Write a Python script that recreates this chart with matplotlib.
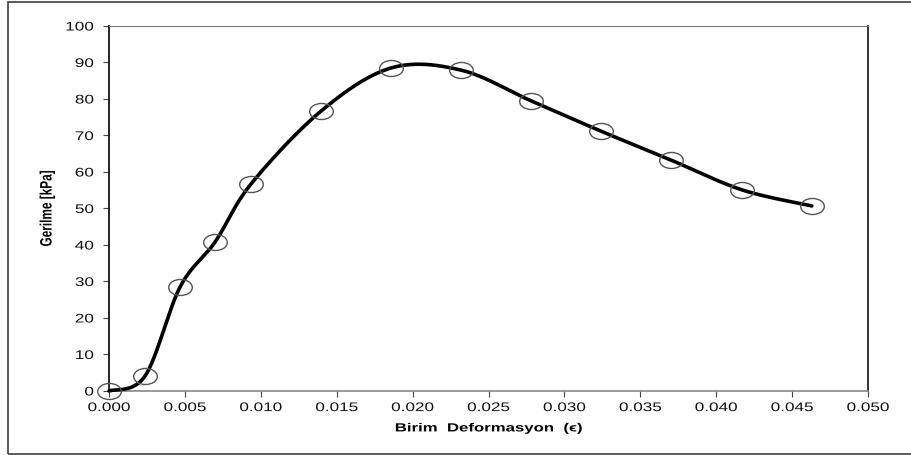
import numpy as np
import matplotlib
matplotlib.use("Agg")
import matplotlib.pyplot as plt
from matplotlib.path import Path
from matplotlib.transforms import Affine2D
from matplotlib.patches import Rectangle
from matplotlib.patheffects import AbstractPathEffect

plt.rcParams["font.family"] = ["Liberation Sans", "DejaVu Sans"]

# Measured stress-strain points
strain = [0.0, 0.00237, 0.00468, 0.00698, 0.00935, 0.01397, 0.01858,
          0.0232, 0.0278, 0.0324, 0.0370, 0.0417, 0.0463]
stress = [0.0, 4.1, 28.5, 40.8, 56.7, 76.7, 88.5,
          87.9, 79.5, 71.2, 63.3, 55.1, 50.7]
x_ticks = [0.000, 0.005, 0.010, 0.015, 0.020, 0.025, 0.030,
           0.035, 0.040, 0.045, 0.050]
y_ticks = [0, 10, 20, 30, 40, 50, 60, 70, 80, 90, 100]


class HStretch(AbstractPathEffect):
    """Widen text horizontally (the source image is stretched sideways)."""

    def __init__(self, sx, anchor="center"):
        super().__init__()
        self.sx = sx
        self.anchor = anchor

    def draw_path(self, renderer, gc, tpath, affine, rgbFace=None):
        ext = tpath.get_extents(affine)
        if self.anchor == "right":
            x0 = ext.x1
        elif self.anchor == "left":
            x0 = ext.x0
        else:
            x0 = 0.5 * (ext.x0 + ext.x1)
        new = affine + Affine2D().translate(-x0, 0).scale(self.sx, 1).translate(x0, 0)
        renderer.draw_path(gc, tpath, new, rgbFace)


def smooth_curve(xs, ys, n=40):
    """Excel-style smoothed line: cubic Bezier with Catmull-Rom controls."""
    p = np.column_stack([xs, ys]).astype(float)
    pts = [p[0]]
    for i in range(len(p) - 1):
        p0 = p[i - 1] if i > 0 else p[i]
        p1, p2 = p[i], p[i + 1]
        p3 = p[i + 2] if i + 2 < len(p) else p[i + 1]
        c1 = p1 + (p2 - p0) / 6.0
        c2 = p2 - (p3 - p1) / 6.0
        t = np.linspace(0, 1, n)[1:, None]
        seg = ((1 - t) ** 3) * p1 + 3 * ((1 - t) ** 2) * t * c1 \
            + 3 * (1 - t) * t ** 2 * c2 + t ** 3 * p2
        pts.extend(seg)
    pts = np.array(pts)
    return pts[:, 0], pts[:, 1]


fig = plt.figure(figsize=(9.11, 4.56), dpi=100)
ax = fig.add_axes([0.1197, 0.1404, 0.8331, 0.8004])

# outer frame around the chart area
fig.patches.append(Rectangle((8 / 911, 1 / 456), 1.2, 452 / 456,
                             transform=fig.transFigure, fill=False,
                             edgecolor="#404040", linewidth=1.2))

cx, cy = smooth_curve(strain, stress)
ax.plot(cx, cy, color="black", linewidth=2.6, zorder=3,
        solid_capstyle="round", clip_on=False)

ellipse = Path.unit_circle().transformed(Affine2D().scale(1.0, 0.68))
ax.plot(strain, stress, linestyle="none", marker=ellipse, markersize=17,
        markerfacecolor="none", markeredgecolor="#555555",
        markeredgewidth=1.0, zorder=4, clip_on=False)

ax.set_xlim(0, 0.05)
ax.set_ylim(0, 100)
ax.set_xticks(x_ticks)
ax.set_xticklabels([f"{v:.3f}" for v in x_ticks])
ax.set_yticks(y_ticks)
ax.tick_params(direction="out", length=4.5, width=0.8, colors="#444444",
               labelsize=9, labelcolor="#111111")
ax.tick_params(axis="y", pad=6.5)
ax.tick_params(axis="x", pad=3.5)

for lab in ax.get_yticklabels():
    lab.set_path_effects([HStretch(1.37, "right")])
for lab in ax.get_xticklabels():
    lab.set_path_effects([HStretch(1.37, "center")])

for side, col in [("left", "black"), ("right", "#333333"),
                  ("top", "#777777"), ("bottom", "#888888")]:
    ax.spines[side].set_color(col)
ax.spines["left"].set_linewidth(1.2)
ax.spines["right"].set_linewidth(1.4)
ax.spines["top"].set_linewidth(0.8)
ax.spines["bottom"].set_linewidth(1.2)

xl = ax.set_xlabel("Birim  Deformasyon  (\u03f5)", fontsize=8.5,
                   fontweight="bold", labelpad=6)
xl.set_path_effects([HStretch(1.42, "center")])
yl = ax.set_ylabel("Gerilme [kPa]", fontsize=8.5, fontweight="bold",
                   labelpad=14)
yl.set_path_effects([HStretch(1.4, "center")])

fig.savefig("out.png", dpi=100)
